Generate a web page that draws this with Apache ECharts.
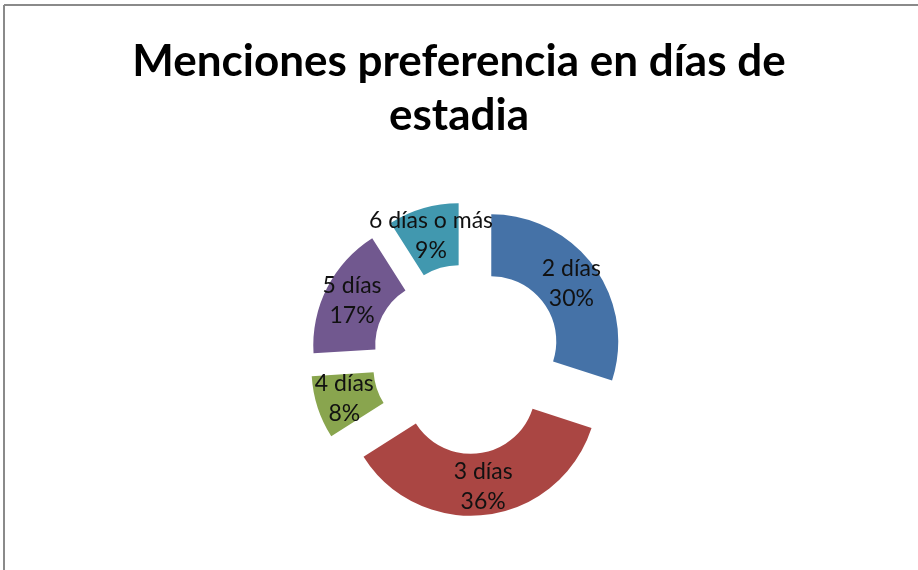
<!DOCTYPE html>
<html>
<head>
<meta charset="utf-8">
<script src="https://cdn.jsdelivr.net/npm/echarts@6/dist/echarts.min.js"></script>
<style>
html,body{margin:0;padding:0;background:#fff;}
#chart{width:918px;height:570px;}
</style>
</head>
<body>
<div id="chart"></div>
<script>
var titleText = 'Menciones preferencia en días de\nestadia';
var categories = ['2 días', '3 días', '4 días', '5 días', '6 días o más'];
var values = [30, 36, 8, 17, 9];
var colors = ['#4572A7', '#AA4643', '#89A54E', '#71588F', '#4198AF'];

var chart = echarts.init(document.getElementById('chart'));
var data = categories.map(function (c, i) {
  return { name: c, value: values[i], selected: true, itemStyle: { color: colors[i] } };
});
chart.setOption({
  backgroundColor: '#ffffff',
  animation: false,
  title: {
    text: titleText,
    left: 'center',
    top: 30,
    textStyle: { fontFamily: 'Lato', fontWeight: 'bold', fontSize: 44, lineHeight: 54, color: '#000' }
  },
  graphic: [
    { type: 'line', shape: { x1: 4, y1: 5, x2: 918, y2: 5 }, style: { stroke: '#8a8a8a', lineWidth: 2 } },
    { type: 'line', shape: { x1: 4, y1: 5, x2: 4, y2: 570 }, style: { stroke: '#8a8a8a', lineWidth: 2 } }
  ],
  series: [{
    type: 'pie',
    center: [467, 359],
    radius: [65, 127],
    startAngle: 90,
    clockwise: true,
    selectedMode: 'multiple',
    selectedOffset: 30,
    avoidLabelOverlap: false,
    label: {
      show: true,
      position: 'inside',
      overflow: 'none',
      formatter: function (p) { return p.name + '\n' + Math.round(p.percent) + '%'; },
      fontFamily: 'Lato',
      fontSize: 23,
      lineHeight: 30,
      color: '#111'
    },
    labelLayout: { hideOverlap: false },
    labelLine: { show: false },
    emphasis: { disabled: true },
    data: data
  }]
});
</script>
</body>
</html>
